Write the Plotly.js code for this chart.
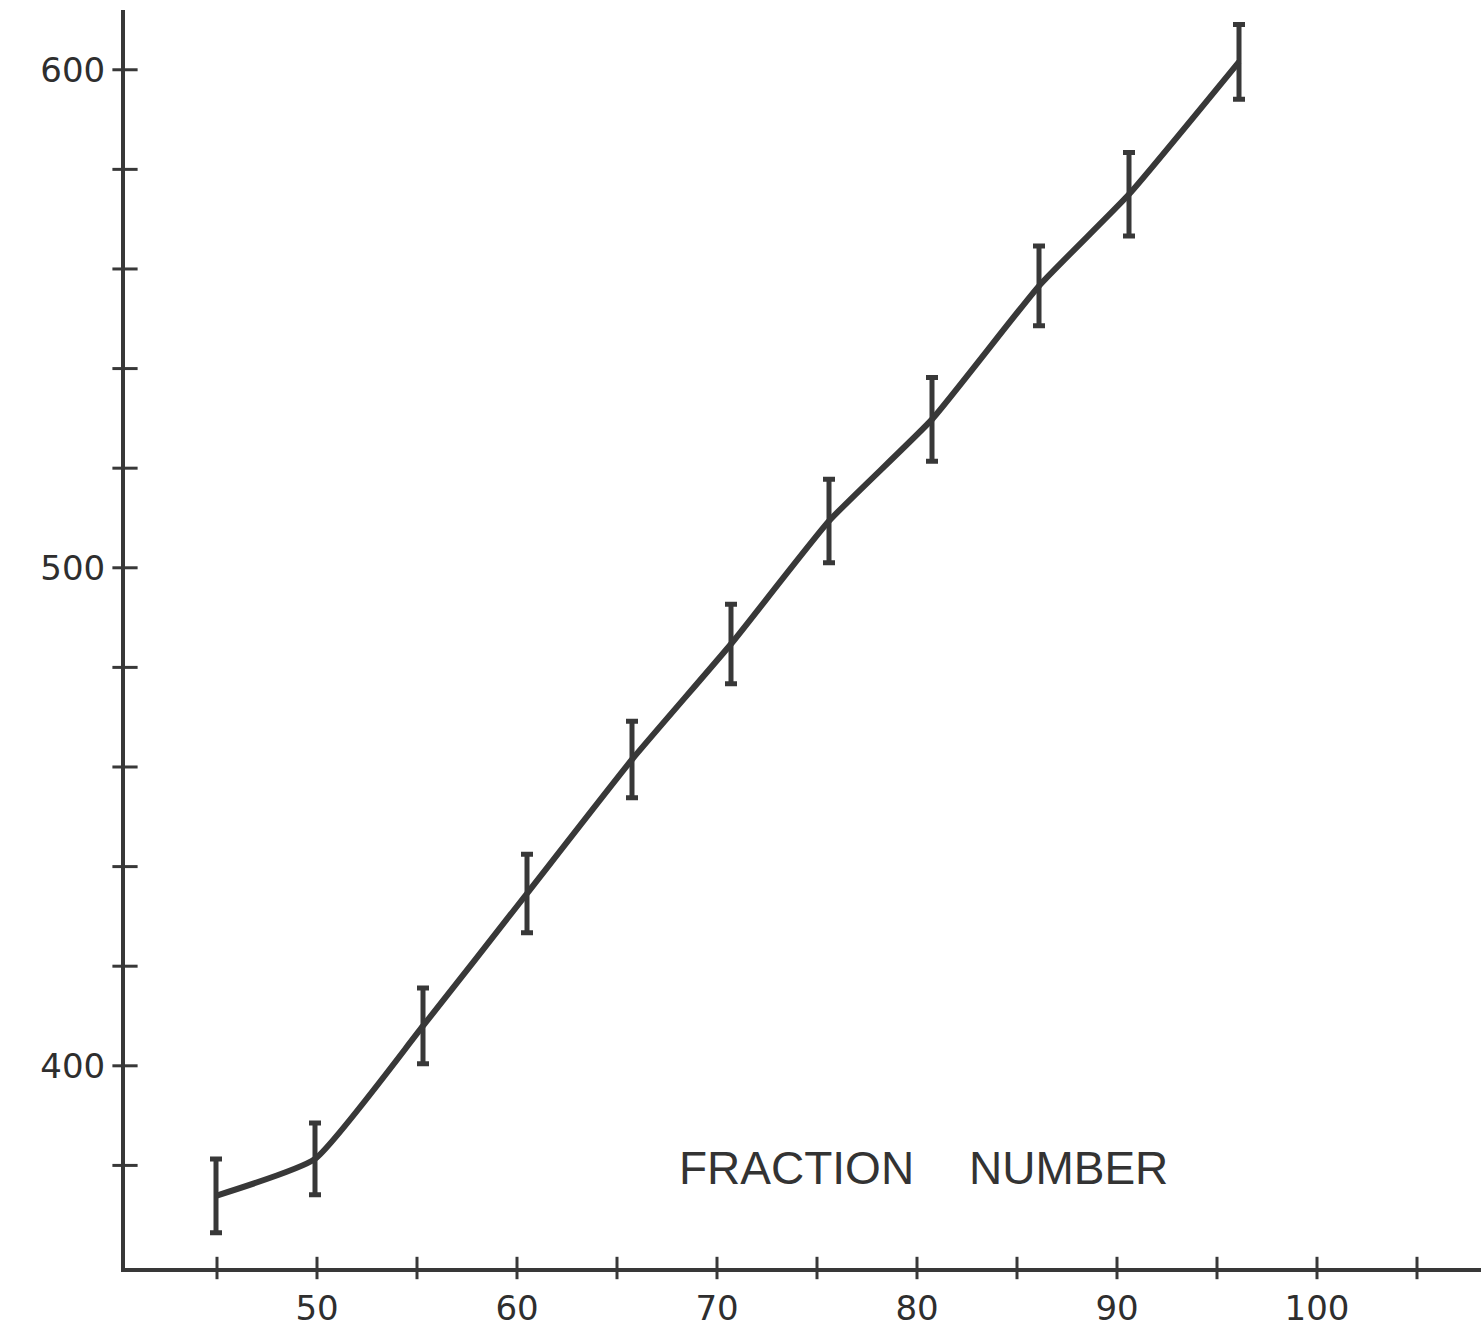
<!DOCTYPE html>
<html>
<head>
<meta charset="utf-8">
<script src="https://cdn.plot.ly/plotly-3.0.1.min.js"></script>
<style>html,body{margin:0;padding:0;background:#fff;}#chart{width:1481px;height:1339px;}</style>
</head>
<body>
<div id="chart"></div>
<script>
// Data
const fraction = [44.95, 49.9, 55.3, 60.5, 65.75, 70.7, 75.6, 80.75, 86.1, 90.6, 96.1];
const value = [373.9, 381.3, 408.0, 434.6, 461.5, 484.7, 509.4, 529.8, 556.6, 575.0, 601.6];
const errorHalf = [7.4, 7.2, 7.6, 7.9, 7.7, 8.0, 8.4, 8.4, 8.0, 8.4, 7.5];

const xTickVals = [45, 50, 55, 60, 65, 70, 75, 80, 85, 90, 95, 100, 105];
const xTickText = ['', '50', '', '60', '', '70', '', '80', '', '90', '', '100', ''];
const yTickVals = [380, 400, 420, 440, 460, 480, 500, 520, 540, 560, 580, 600];
const yTickText = ['', '400', '', '', '', '', '500', '', '', '', '', '600'];
const xTitleWords = ['FRACTION', 'NUMBER'];

const ink = '#383838';
const xRange = [40.4, 108.2];
const yRange = [359.4, 612.0];

const traces = [
  {
    x: fraction, y: value, type: 'scatter', mode: 'lines',
    line: {shape: 'spline', smoothing: 0.45, color: ink, width: 6},
    hoverinfo: 'skip', showlegend: false
  },
  {
    x: fraction, y: value, type: 'scatter', mode: 'markers',
    marker: {size: 1, color: 'rgba(0,0,0,0)'},
    error_y: {type: 'data', array: errorHalf, visible: true, color: ink, thickness: 5, width: 6},
    showlegend: false
  },
  // crossing tick marks on the y axis, placed at the tick values
  {
    x: yTickVals.map(() => xRange[0]), y: yTickVals, type: 'scatter', mode: 'markers',
    marker: {symbol: 'line-ew-open', size: 18, color: ink, line: {color: ink, width: 3}},
    cliponaxis: false, showlegend: false, hoverinfo: 'skip'
  },
  // crossing tick marks on the x axis, placed at the tick values
  {
    x: xTickVals, y: xTickVals.map(() => yRange[0]), type: 'scatter', mode: 'markers',
    marker: {symbol: 'line-ns-open', size: 16, color: ink, line: {color: ink, width: 3}},
    cliponaxis: false, showlegend: false, hoverinfo: 'skip'
  }
];

const tickFont = {family: 'DejaVu Sans', size: 34, color: '#2e2e2e'};

const layout = {
  width: 1481, height: 1339,
  margin: {l: 125, r: 0, t: 10, b: 71},
  paper_bgcolor: '#ffffff', plot_bgcolor: '#ffffff',
  showlegend: false,
  xaxis: {
    range: xRange, tickmode: 'array', tickvals: xTickVals, ticktext: xTickText,
    ticks: 'outside', ticklen: 7, tickwidth: 0, tickcolor: 'rgba(0,0,0,0)',
    showline: true, linecolor: ink, linewidth: 4, showgrid: false, zeroline: false,
    tickfont: tickFont, ticklabelstandoff: 0
  },
  yaxis: {
    range: yRange, tickmode: 'array', tickvals: yTickVals, ticktext: yTickText,
    ticks: 'outside', ticklen: 9, tickwidth: 0, tickcolor: 'rgba(0,0,0,0)',
    showline: true, linecolor: ink, linewidth: 4, showgrid: false, zeroline: false,
    tickfont: tickFont, ticklabelstandoff: 0
  },
  annotations: [
    {xref: 'paper', yref: 'paper', x: 0.4954, y: 0.0795, xanchor: 'center', yanchor: 'middle',
     text: xTitleWords[0], showarrow: false,
     font: {family: 'Liberation Sans', size: 46, color: '#333'}},
    {xref: 'paper', yref: 'paper', x: 0.6960, y: 0.0795, xanchor: 'center', yanchor: 'middle',
     text: xTitleWords[1], showarrow: false,
     font: {family: 'Liberation Sans', size: 46, color: '#333'}}
  ]
};

Plotly.newPlot('chart', traces, layout, {displayModeBar: false, staticPlot: true});
</script>
</body>
</html>
